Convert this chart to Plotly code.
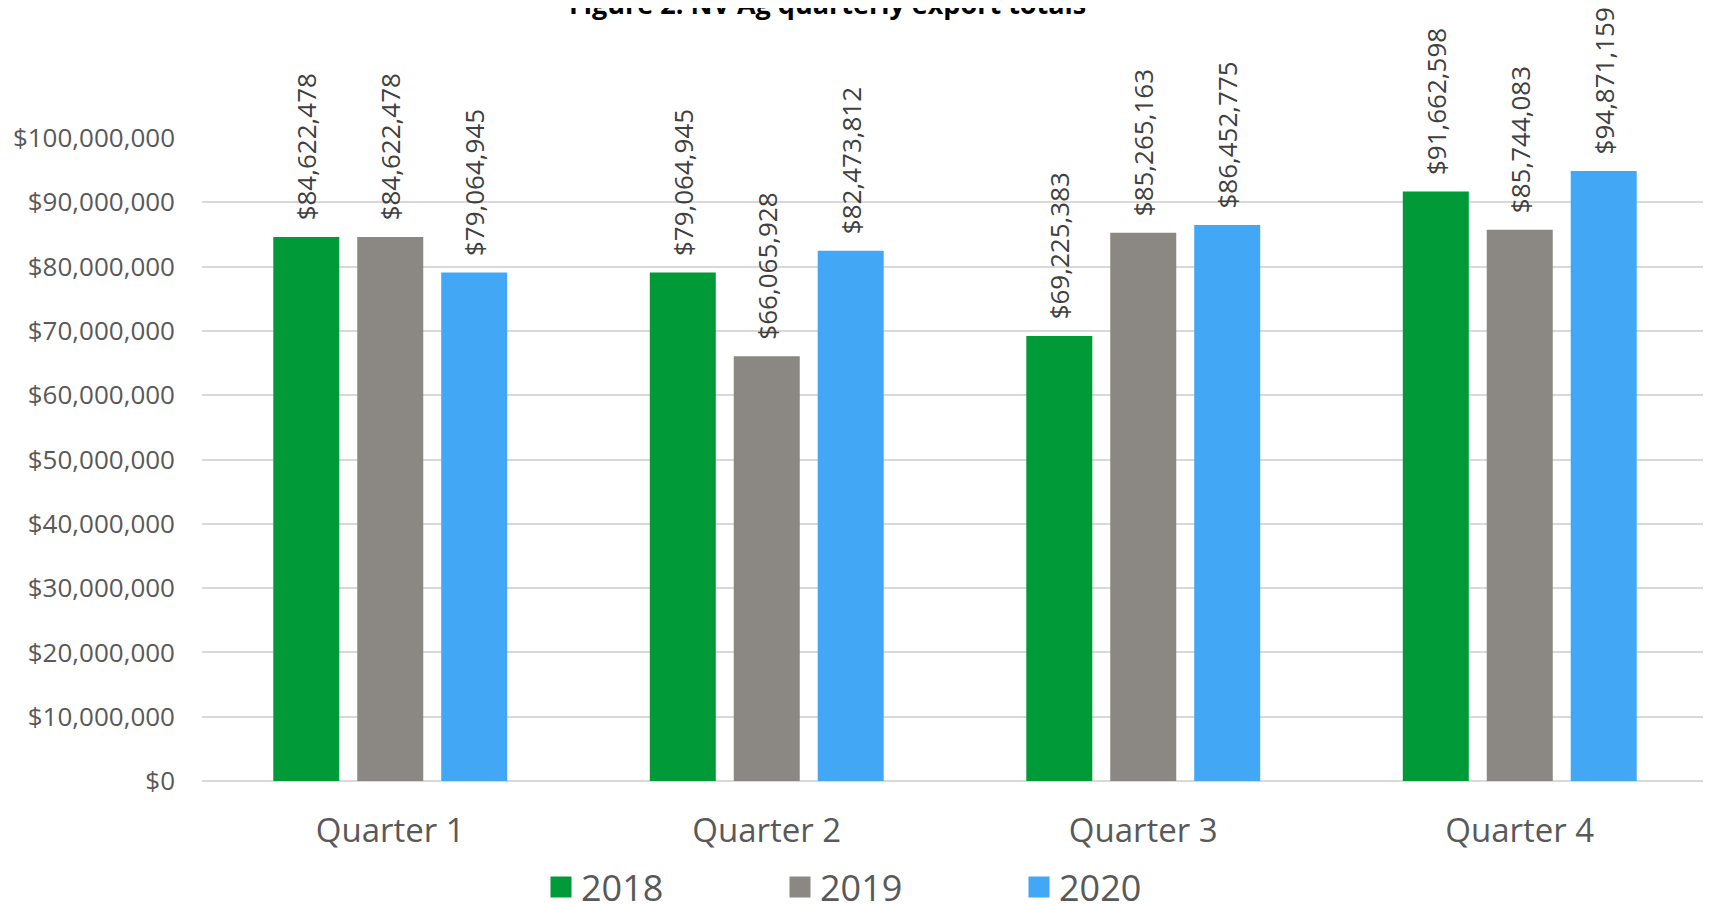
import plotly.graph_objects as go

quarters = ["Quarter 1", "Quarter 2", "Quarter 3", "Quarter 4"]
years = ["2018", "2019", "2020"]
values_2018 = [84622478, 79064945, 69225383, 91662598]
values_2019 = [84622478, 66065928, 85265163, 85744083]
values_2020 = [79064945, 82473812, 86452775, 94871159]
colors = ["#009A38", "#8B8782", "#42A8F5"]
y_ticks = [0, 10000000, 20000000, 30000000, 40000000, 50000000,
           60000000, 70000000, 80000000, 90000000, 100000000]

series = [values_2018, values_2019, values_2020]
font = "Open Sans, sans-serif"

fig = go.Figure()
for name, vals, col in zip(years, series, colors):
    fig.add_trace(go.Bar(
        x=quarters, y=vals, name=name, marker=dict(color=col, line=dict(width=0)),
        texttemplate="\u00a0\u00a0$%{y:,}", textposition="outside", textangle=-90,
        textfont=dict(family=font, size=26, color="#404040"),
        cliponaxis=False, constraintext="none", showlegend=False,
    ))
    fig.add_trace(go.Scatter(
        x=[None], y=[None], mode="markers", name=name,
        marker=dict(symbol="square", size=16, color=col, line=dict(color=col, width=6)),
        showlegend=True,
    ))

fig.add_annotation(
    text="<b>Figure 2: NV Ag quarterly export totals</b>",
    font=dict(family=font, size=27, color="#000000"),
    xref="paper", x=(819 - 194) / 1506, xanchor="center",
    yref="paper", y=1 + 134 / 643, yanchor="middle", showarrow=False,
)

fig.update_layout(
    width=1711, height=905,
    margin=dict(l=194, r=11, t=130, b=132),
    plot_bgcolor="white", paper_bgcolor="white",
    barmode="group", bargap=0.331, bargroupgap=0.214,
    legend=dict(orientation="h", xref="container", x=533/1711, xanchor="left",
                yref="container", y=(905 - 879)/905, yanchor="middle",
                font=dict(family=font, size=36, color="#595959"),
                entrywidth=194, entrywidthmode="pixels", itemsizing="trace",
                bgcolor="rgba(0,0,0,0)"),
    xaxis=dict(showgrid=False, showline=False, ticks="", automargin=False,
               tickfont=dict(family=font, size=33, color="#595959"),
               ticklabelstandoff=27),
    yaxis=dict(range=[0, 100000000], tickvals=y_ticks, tickformat="$,.0f",
               showgrid=True, gridcolor="#D9D9D9", gridwidth=1.5,
               zeroline=True, zerolinecolor="#D9D9D9", zerolinewidth=1.5,
               showline=False, ticks="", automargin=False,
               tickfont=dict(family=font, size=26, color="#595959"),
               ticklabelstandoff=26),
)

fig.write_html("out.html")
